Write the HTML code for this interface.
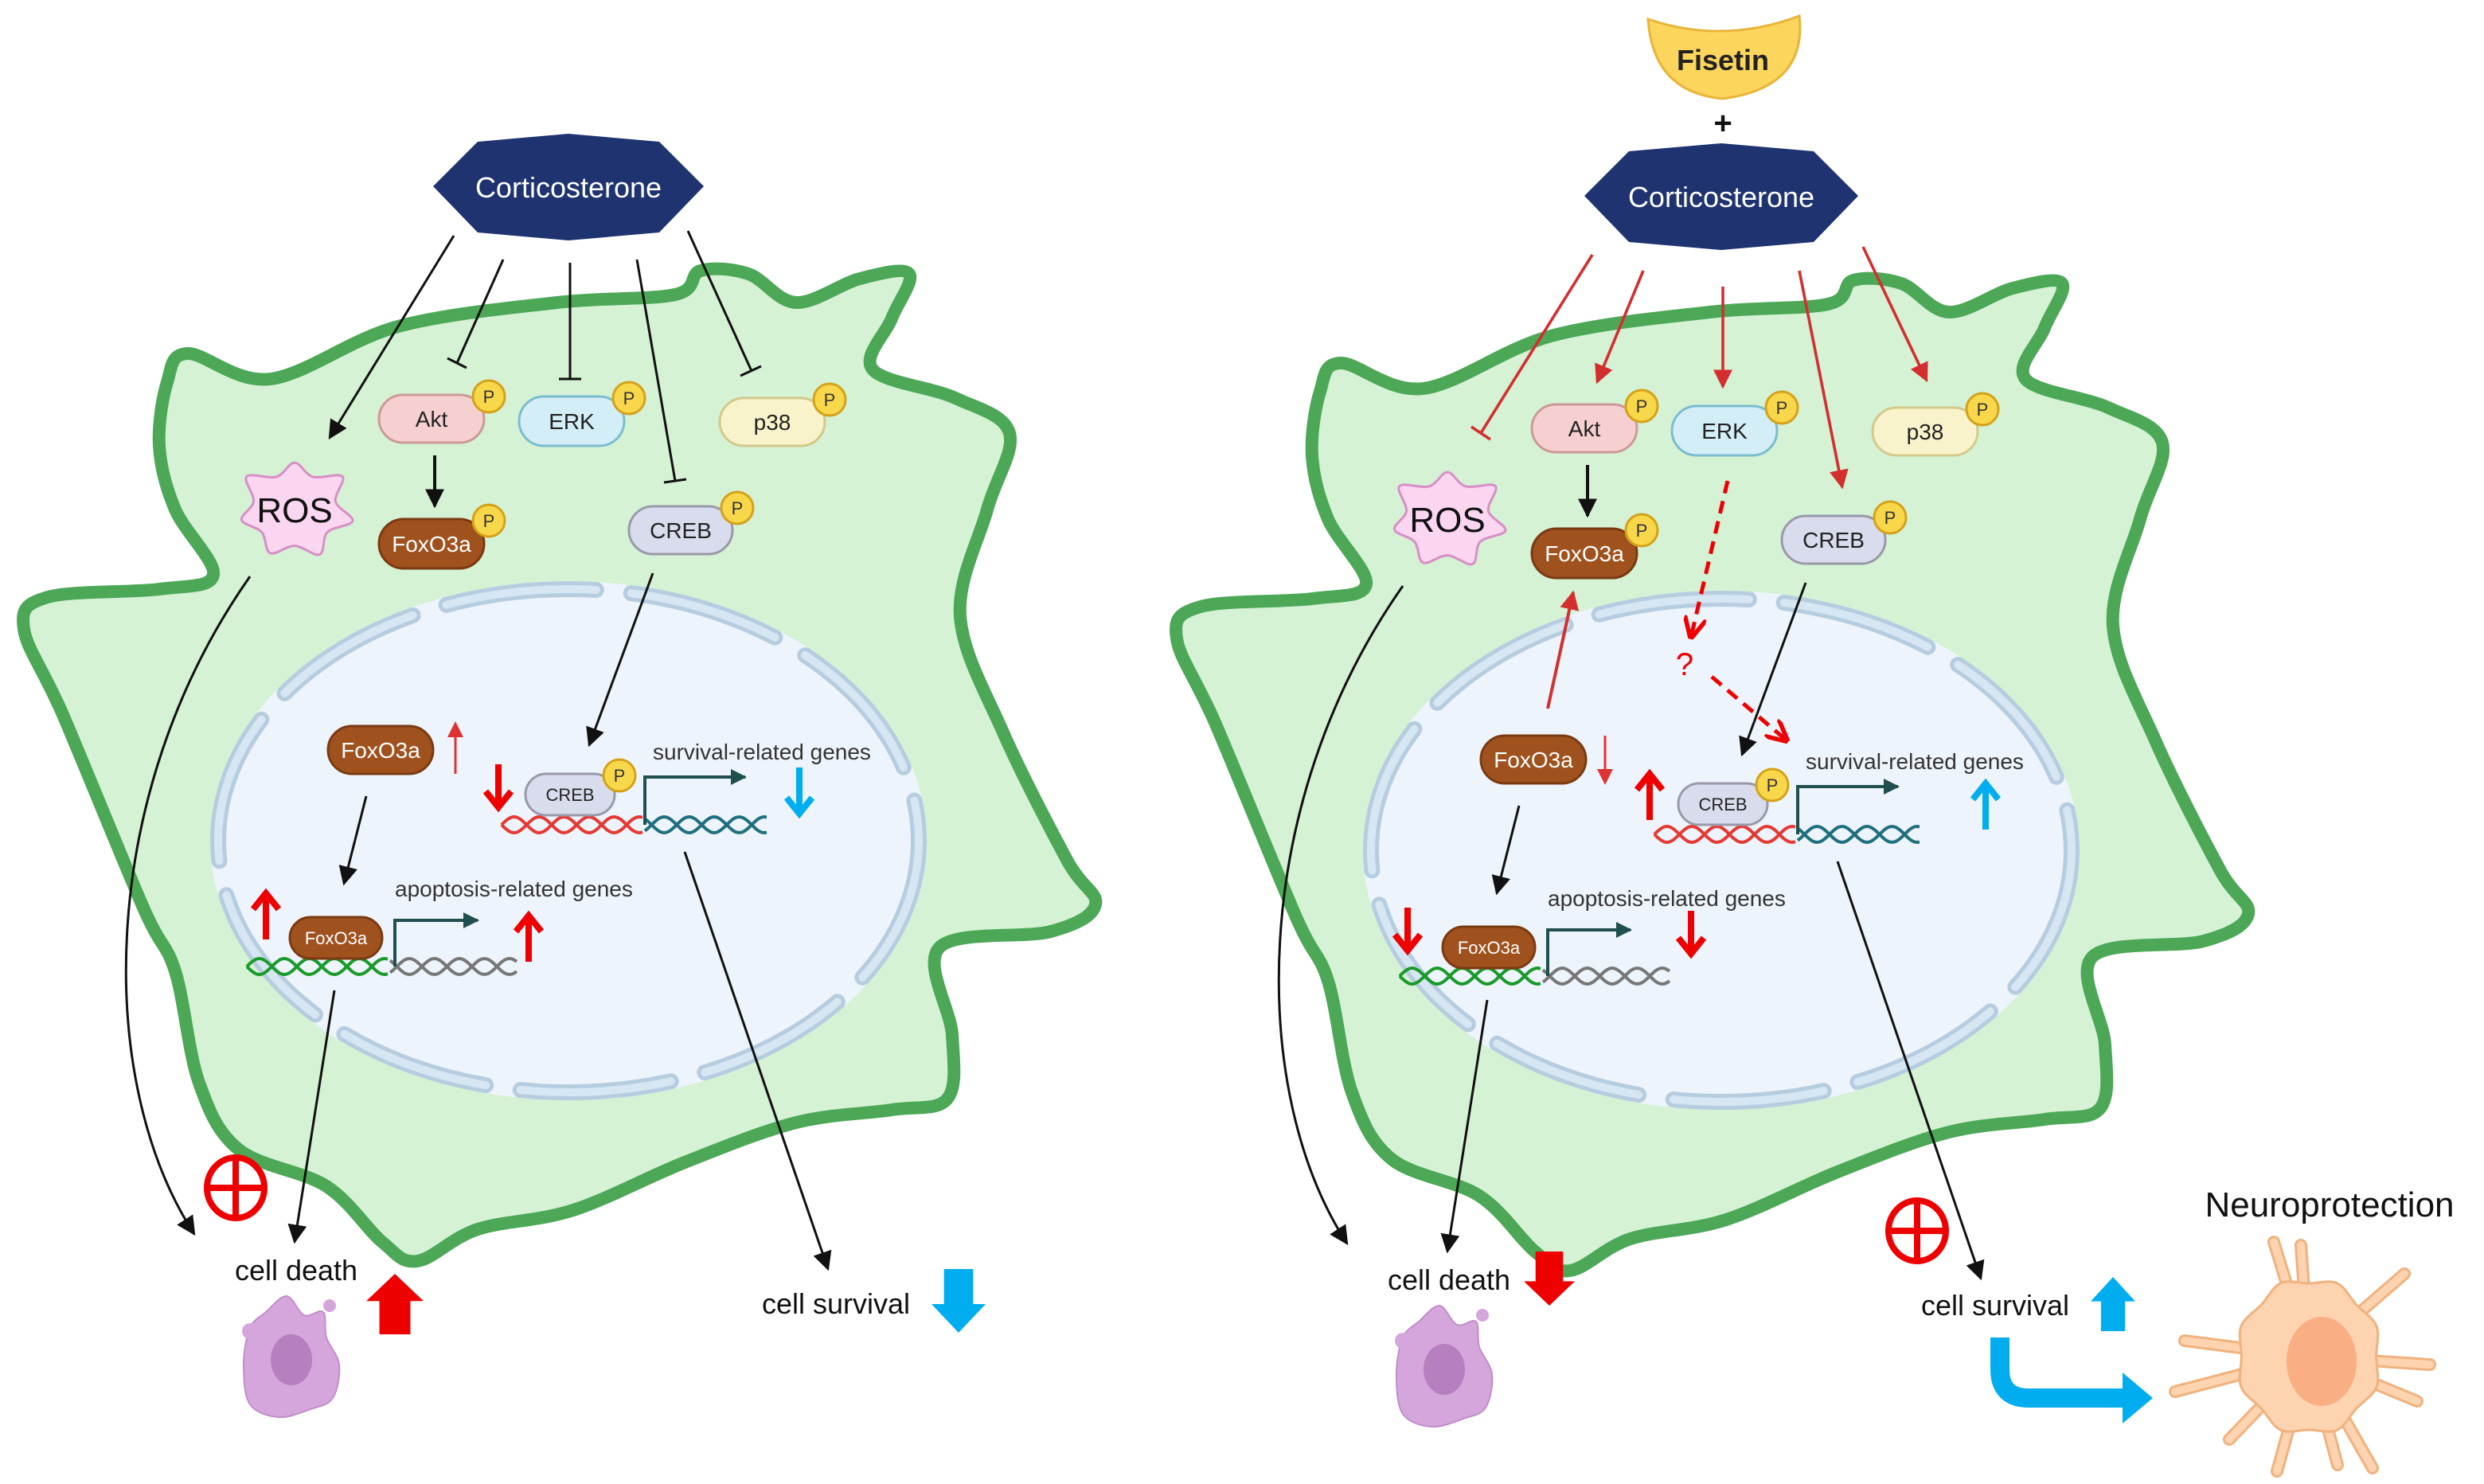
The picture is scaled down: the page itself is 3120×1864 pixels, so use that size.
<!DOCTYPE html>
<html><head><meta charset="utf-8"><style>
html,body{margin:0;padding:0;background:#fff;overflow:hidden;}
svg{display:block;}
text{font-family:"Liberation Sans",sans-serif;}
</style></head><body>
<svg id="s" width="3120" height="1864" viewBox="0 0 1560 932" xmlns="http://www.w3.org/2000/svg">
<defs>
<marker id="ab2" viewBox="0 0 10 10" refX="9" refY="5" markerWidth="12" markerHeight="12" orient="auto" markerUnits="userSpaceOnUse"><path d="M0,0 L10,5 L0,10 z" fill="#111"/></marker>
<marker id="ar" viewBox="0 0 10 10" refX="9" refY="5" markerWidth="12" markerHeight="12" orient="auto" markerUnits="userSpaceOnUse"><path d="M0,0 L10,5 L0,10 z" fill="#d32f2f"/></marker>
<marker id="ard" viewBox="0 0 10 10" refX="9" refY="5" markerWidth="14" markerHeight="14" orient="auto" markerUnits="userSpaceOnUse"><path d="M0,0 L10,5 L0,10" fill="none" stroke="#e00" stroke-width="2"/></marker>
<marker id="ag" viewBox="0 0 10 10" refX="9" refY="5" markerWidth="10" markerHeight="10" orient="auto" markerUnits="userSpaceOnUse"><path d="M0,0 L10,5 L0,10 z" fill="#1f4f4f"/></marker>
</defs>
<g id="cells"></g>

<g id="L">
<polygon points="272,117 300,89 357,84 414,89 442,117 414,146 357,151 300,146" fill="#1e3370"/>
<text x="357" y="124" font-size="18" fill="#fff" text-anchor="middle">Corticosterone</text>
<line x1="285" y1="148" x2="207" y2="275" stroke="#111" stroke-width="1.5" marker-end="url(#ab2)"/>
<line x1="316" y1="163" x2="287" y2="228" stroke="#111" stroke-width="1.5"/><line x1="281" y1="225" x2="293" y2="231" stroke="#111" stroke-width="1.5"/>
<line x1="358" y1="165" x2="358" y2="238" stroke="#111" stroke-width="1.5"/><line x1="351" y1="238" x2="365" y2="238" stroke="#111" stroke-width="1.5"/>
<line x1="400" y1="163" x2="424" y2="302" stroke="#111" stroke-width="1.5"/><line x1="417" y1="303" x2="431" y2="301" stroke="#111" stroke-width="1.5"/>
<line x1="432" y1="145" x2="472" y2="233" stroke="#111" stroke-width="1.5"/><line x1="465" y1="236" x2="478" y2="230" stroke="#111" stroke-width="1.5"/>
</g>

<g id="R">
<path d="M1035,12 Q1082,28 1130,10 Q1135,55 1082,62 Q1038,58 1035,12 z" fill="#fcd55c" stroke="#e8b53a" stroke-width="1.5"/>
<text x="1082" y="44" font-size="18" fill="#222" text-anchor="middle" font-weight="bold">Fisetin</text>
<text x="1082" y="84" font-size="20" fill="#111" text-anchor="middle" font-weight="bold">+</text>
<polygon points="995,123 1023,95 1081,90 1139,95 1167,123 1139,152 1081,157 1023,152" fill="#1e3370"/>
<text x="1081" y="130" font-size="18" fill="#fff" text-anchor="middle">Corticosterone</text>
<line x1="1000" y1="160" x2="930" y2="272" stroke="#d32f2f" stroke-width="1.8"/><line x1="924" y1="268" x2="936" y2="276" stroke="#d32f2f" stroke-width="1.8"/>
<line x1="1032" y1="170" x2="1003" y2="240" stroke="#d32f2f" stroke-width="1.8" marker-end="url(#ar)"/>
<line x1="1082" y1="180" x2="1082" y2="243" stroke="#d32f2f" stroke-width="1.8" marker-end="url(#ar)"/>
<line x1="1130" y1="170" x2="1157" y2="306" stroke="#d32f2f" stroke-width="1.8" marker-end="url(#ar)"/>
<line x1="1170" y1="155" x2="1210" y2="239" stroke="#d32f2f" stroke-width="1.8" marker-end="url(#ar)"/>
</g>
<g id="fg"></g>
</svg>
<script>
var NS="http://www.w3.org/2000/svg";
function el(parent,tag,attrs,txt){var e=document.createElementNS(NS,tag);for(var k in attrs)e.setAttribute(k,attrs[k]);if(txt!==undefined)e.textContent=txt;parent.appendChild(e);return e;}
function smooth(p){var n=p.length,d="M"+p[0][0]+","+p[0][1];for(var i=0;i<n;i++){var p0=p[(i-1+n)%n],p1=p[i],p2=p[(i+1)%n],p3=p[(i+2)%n];var c1=[p1[0]+(p2[0]-p0[0])/6,p1[1]+(p2[1]-p0[1])/6],c2=[p2[0]-(p3[0]-p1[0])/6,p2[1]-(p3[1]-p1[1])/6];d+=" C"+c1[0].toFixed(1)+","+c1[1].toFixed(1)+" "+c2[0].toFixed(1)+","+c2[1].toFixed(1)+" "+p2[0]+","+p2[1];}return d+"Z";}
var cellPts=[[118,222],[170,238],[250,205],[350,190],[424,185],[440,170],[470,172],[500,190],[540,175],[571,172],[560,200],[548,232],[600,250],[634,272],[620,320],[603,387],[630,460],[670,540],[688,568],[660,585],[590,595],[598,650],[595,690],[560,697],[500,705],[430,730],[360,760],[300,772],[262,792],[240,780],[205,745],[150,722],[125,680],[110,610],[90,570],[40,450],[15,395],[30,375],[100,370],[134,361],[110,320],[100,280],[105,240]];
var cells=document.getElementById("cells"),fg=document.getElementById("fg");
[0,1].forEach(function(k){
  var dx=k*724,dy=k*6;
  var pts=cellPts.map(function(q){return [q[0]+dx,q[1]+dy];});
  el(cells,"path",{d:smooth(pts),fill:"#d5f2d5",stroke:"#4ca857","stroke-width":8,"stroke-linejoin":"round"});
  el(cells,"ellipse",{cx:357+dx,cy:528+dy,rx:225,ry:163,fill:"#eef4fb"});
  el(cells,"ellipse",{cx:357+dx,cy:528+dy,rx:220,ry:158,fill:"none",stroke:"#b6cde0","stroke-width":10,"stroke-dasharray":"95 22","stroke-linecap":"round"});
  el(cells,"ellipse",{cx:357+dx,cy:528+dy,rx:220,ry:158,fill:"none",stroke:"#d6e6f3","stroke-width":5,"stroke-dasharray":"95 22","stroke-linecap":"round"});
});
function pill(x,y,w,h,fill,stroke,label,tc,fs,p){
  el(fg,"rect",{x:x,y:y,width:w,height:h,rx:h/2,fill:fill,stroke:stroke,"stroke-width":1.5});
  el(fg,"text",{x:x+w/2,y:y+h/2+fs*0.36,"font-size":fs,fill:tc,"text-anchor":"middle"},label);
  if(p){el(fg,"circle",{cx:x+w+3,cy:y+1,r:10,fill:"#f8d84a",stroke:"#d4a21a","stroke-width":1.5});
  el(fg,"text",{x:x+w+3,y:y+5,"font-size":11,fill:"#333","text-anchor":"middle"},"P");}
}
function dna(x1,x2,y,c1,c2,split){
  for(var s=0;s<2;s++){
    var d1="",d2="";
    for(var x=x1;x<=x2;x+=1.5){var yy=y+5*Math.sin((x-x1)/5+s*Math.PI);
      if(x<split){d1+=(d1?"L":"M")+x.toFixed(1)+","+yy.toFixed(1);}else{d2+=(d2?"L":"M")+x.toFixed(1)+","+yy.toFixed(1);}}
    el(fg,"path",{d:d1,fill:"none",stroke:c1,"stroke-width":2});
    el(fg,"path",{d:d2,fill:"none",stroke:c2,"stroke-width":2});
  }
}
function fatArrow(x,y,up,color,len,w){
  var d=up?-1:1;
  el(fg,"line",{x1:x,y1:y,x2:x,y2:y+d*len,stroke:color,"stroke-width":w});
  el(fg,"path",{d:"M"+(x-8)+","+(y+d*(len-9))+" L"+x+","+(y+d*(len+1))+" L"+(x+8)+","+(y+d*(len-9)),fill:"none",stroke:color,"stroke-width":w});
}
function blockArrow(x,y,up,color,w,h){
  var hw=w/2,sw=w*0.27,hh=h*0.45;
  var pts=up?[[x,y-h],[x+hw,y-h+hh],[x+sw,y-h+hh],[x+sw,y],[x-sw,y],[x-sw,y-h+hh],[x-hw,y-h+hh]]:[[x,y+h],[x+hw,y+h-hh],[x+sw,y+h-hh],[x+sw,y],[x-sw,y],[x-sw,y+h-hh],[x-hw,y+h-hh]];
  el(fg,"polygon",{points:pts.map(function(q){return q.join(",")}).join(" "),fill:color});
}
function ros(cx,cy){
  var p=[],n=7;for(var i=0;i<n*2;i++){var a=i*Math.PI/n-Math.PI/2;var r=(i%2==0)?(31+((i*7)%5)):24;p.push([cx+r*1.1*Math.cos(a),cy+r*0.95*Math.sin(a)]);}
  el(fg,"path",{d:smooth(p),fill:"#fad6f0",stroke:"#d78fc5","stroke-width":1.5});
  el(fg,"text",{x:cx,y:cy+8,"font-size":22,fill:"#111","text-anchor":"middle"},"ROS");
}
function oplus(cx,cy){el(fg,"ellipse",{cx:cx,cy:cy,rx:18,ry:19,fill:"none",stroke:"#e00","stroke-width":4});
  el(fg,"line",{x1:cx-18,y1:cy,x2:cx+18,y2:cy,stroke:"#e00","stroke-width":4});el(fg,"line",{x1:cx,y1:cy-19,x2:cx,y2:cy+19,stroke:"#e00","stroke-width":4});}
function deadCell(cx,cy){
  var p=[[cx-5,cy-38],[cx+6,cy-26],[cx+18,cy-28],[cx+20,cy-12],[cx+28,cy+5],[cx+24,cy+26],[cx+10,cy+33],[cx-10,cy+38],[cx-28,cy+30],[cx-32,cy+5],[cx-28,cy-18],[cx-18,cy-28]];
  el(fg,"path",{d:smooth(p),fill:"#d5a6dc",stroke:"#c28ccb","stroke-width":1});
  el(fg,"ellipse",{cx:cx-2,cy:cy+2,rx:13,ry:16,fill:"#b67fbf"});
  el(fg,"circle",{cx:cx+22,cy:cy-32,r:4,fill:"#d5a6dc"});el(fg,"circle",{cx:cx-28,cy:cy-16,r:5,fill:"#d5a6dc"});
}
function lineA(x1,y1,x2,y2,c,m,w,dash){var a={x1:x1,y1:y1,x2:x2,y2:y2,stroke:c,"stroke-width":w||1.5,"marker-end":"url(#"+m+")"};if(dash)a["stroke-dasharray"]=dash;el(fg,"line",a);}

[0,1].forEach(function(k){
  var dx=k*724,dy=k*6;
  pill(238+dx,248+dy,66,30,"#f6d0d0","#c99","Akt","#222",14,1);
  pill(326+dx,249+dy,66,31,"#d3eef6","#7bbdd0","ERK","#222",14,1);
  pill(452+dx,250+dy,66,30,"#f8f3cb","#d3c98a","p38","#222",14,1);
  pill(395+dx,318+dy,65,30,"#d9dcec","#99a","CREB","#222",14,1);
  pill(238+dx,326+dy,66,31,"#a0521e","#7a3a12","FoxO3a","#fff",14,1);
  ros(185+dx,320+dy);
  lineA(273+dx,286+dy,273+dx,318+dy,"#111","ab2",2);
  el(fg,"path",{d:"M"+(157+dx)+","+(362+dy)+" C"+(60+dx)+","+(500+dy)+" "+(60+dx)+","+(680+dy)+" "+(122+dx)+","+(775+dy),fill:"none",stroke:"#111","stroke-width":1.5,"marker-end":"url(#ab2)"});
  lineA(410+dx,360+dy,370+dx,468+dy,"#111","ab2");
  pill(206+dx,456+dy,66,30,"#a0521e","#7a3a12","FoxO3a","#fff",14,0);
  lineA(230+dx,500+dy,216+dx,555+dy,"#111","ab2");
  dna(155+dx,325+dx,607+dy,"#1a9a2a","#777",245+dx);
  pill(182+dx,576+dy,58,26,"#a0521e","#7a3a12","FoxO3a","#fff",11,0);
  el(fg,"path",{d:"M"+(248+dx)+","+(607+dy)+" V"+(578+dy)+" H"+(300+dx),fill:"none",stroke:"#1f4f4f","stroke-width":2,"marker-end":"url(#ag)"});
  el(fg,"text",{x:248+dx,y:563+dy,"font-size":14,fill:"#333"},"apoptosis-related genes");
  dna(315+dx,482+dx,518+dy,"#e53935","#1f6f7f",405+dx);
  pill(330+dx,486+dy,56,26,"#d9dcec","#99a","CREB","#222",11,1);
  el(fg,"path",{d:"M"+(405+dx)+","+(518+dy)+" V"+(488+dy)+" H"+(468+dx),fill:"none",stroke:"#1f4f4f","stroke-width":2,"marker-end":"url(#ag)"});
  el(fg,"text",{x:410+dx,y:477+dy,"font-size":14,fill:"#333"},"survival-related genes");
  lineA(210+dx,622+dy,185+dx,780+dy,"#111","ab2");
  lineA(430+dx,535+dy,520+dx,797+dy,"#111","ab2");
  el(fg,"text",{x:186+dx,y:804+dy,"font-size":18,fill:"#111","text-anchor":"middle"},"cell death");
  deadCell(185+dx,852+dy);
});
// Left
el(fg,"line",{x1:286,y1:486,x2:286,y2:458,stroke:"#d33","stroke-width":1.5});
el(fg,"path",{d:"M281,463 L286,453 L291,463",fill:"#d33"});
fatArrow(313,480,false,"#e00",26,4);
fatArrow(167,590,true,"#e00",28,4);
fatArrow(332,604,true,"#e00",28,4);
fatArrow(502,482,false,"#00aeef",28,4);
oplus(148,746);
blockArrow(248,838,true,"#e00",36,38);
el(fg,"text",{x:525,y:825,"font-size":18,fill:"#111","text-anchor":"middle"},"cell survival");
blockArrow(602,797,false,"#00aeef",34,40);

// Right
lineA(1085,302,1062,400,"#e00","ard",2.5,"8 5");
el(fg,"text",{x:1058,y:424,"font-size":20,fill:"#e00","text-anchor":"middle","font-family":"Liberation Serif"},"?");
lineA(1075,425,1122,465,"#e00","ard",2.5,"8 5");
lineA(972,445,988,372,"#d32f2f","ar",2);
el(fg,"line",{x1:1008,y1:462,x2:1008,y2:490,stroke:"#d33","stroke-width":1.5});
el(fg,"path",{d:"M1003,483 L1008,493 L1013,483",fill:"#d33"});
fatArrow(1036,515,true,"#e00",28,4);
fatArrow(1247,521,true,"#00aeef",28,4);
fatArrow(884,570,false,"#e00",26,4);
fatArrow(1062,572,false,"#e00",26,4);
blockArrow(973,786,false,"#e00",32,34);
oplus(1204,773);
el(fg,"text",{x:1253,y:826,"font-size":18,fill:"#111","text-anchor":"middle"},"cell survival");
blockArrow(1327,836,true,"#00aeef",28,34);
el(fg,"path",{d:"M1256,840 V860 Q1256,878 1274,878 H1335",fill:"none",stroke:"#00aeef","stroke-width":12});
el(fg,"polygon",{points:"1333,862 1352,878 1333,894",fill:"#00aeef"});
el(fg,"text",{x:1463,y:764,"font-size":22,fill:"#111","text-anchor":"middle"},"Neuroprotection");
(function(){var cx=1450,cy=852;
 var spikes=[[-78,-10],[-84,22],[-22,-72],[-5,-70],[60,-52],[76,5],[68,28],[40,70],[18,68],[-20,72],[-50,52]];
 spikes.forEach(function(s){el(fg,"line",{x1:cx,y1:cy,x2:cx+s[0],y2:cy+s[1],stroke:"#f0b27e","stroke-width":8,"stroke-linecap":"round"});});
 spikes.forEach(function(s){el(fg,"line",{x1:cx,y1:cy,x2:cx+s[0],y2:cy+s[1],stroke:"#fdd3b0","stroke-width":5,"stroke-linecap":"round"});});
 var body=[];var n=16;for(var i=0;i<n;i++){var a=i/n*2*Math.PI;var r=(i%2?1:0.92);body.push([cx+46*r*Math.cos(a),cy+50*r*Math.sin(a)]);}
 el(fg,"path",{d:smooth(body),fill:"#fdd3b0",stroke:"#f0b27e","stroke-width":1.5});
 el(fg,"ellipse",{cx:cx+8,cy:cy+3,rx:22,ry:28,fill:"#f9ae84"});
})();
</script>
</body></html>
